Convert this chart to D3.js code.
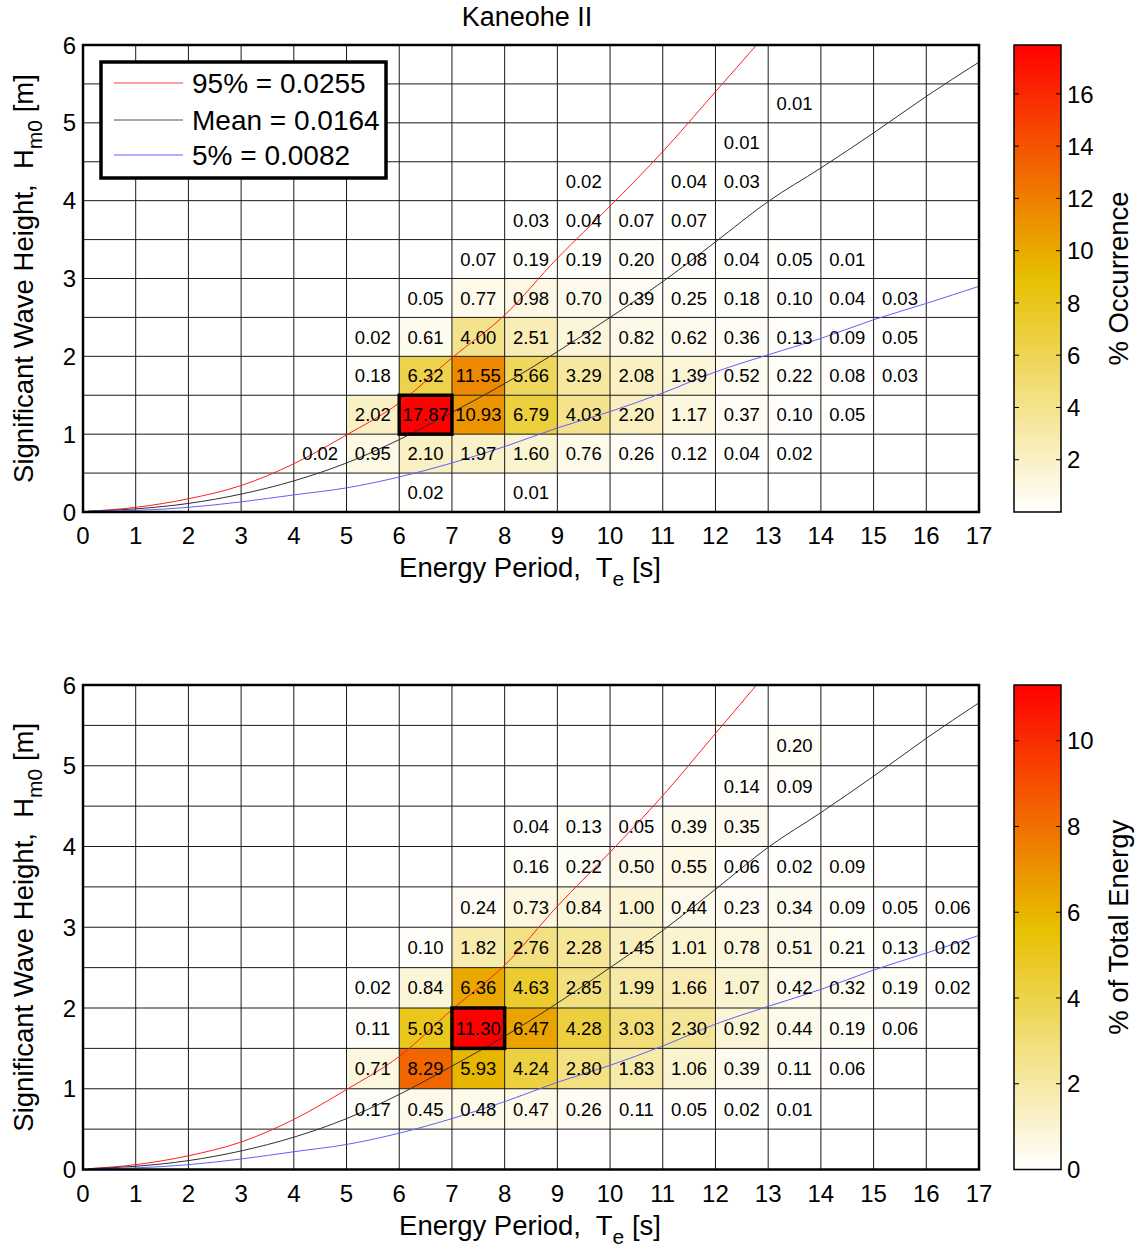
<!DOCTYPE html>
<html>
<head>
	<meta charset="utf-8">
	<title>Kaneohe II</title>
	<script src="https://cdnjs.cloudflare.com/ajax/libs/d3/7.8.5/d3.min.js"></script>
	<style>
	body { margin: 0; background: #fff; }
	svg text { font-family: "Liberation Sans", Arial, Helvetica, sans-serif; fill: #000; }
	</style>
</head>
<body>
	<svg id="svg" width="1139" height="1249"></svg>

	<script>
	// tick labels
	const teTicks = d3.range(0, 18)
	const hmTicks = [0, 1, 2, 3, 4, 5, 6]
	const occTicks = [2, 4, 6, 8, 10, 12, 14, 16]
	const energyTicks = [0, 2, 4, 6, 8, 10]

	// bins: [Te bin start (s), Hm0 bin start (m), value]
	const occurrence = [
		[6, 0, 0.02], [8, 0, 0.01],
		[4, 0.5, 0.02], [5, 0.5, 0.95], [6, 0.5, 2.10], [7, 0.5, 1.97], [8, 0.5, 1.60], [9, 0.5, 0.76],
		[10, 0.5, 0.26], [11, 0.5, 0.12], [12, 0.5, 0.04], [13, 0.5, 0.02],
		[5, 1, 2.02], [6, 1, 17.87], [7, 1, 10.93], [8, 1, 6.79], [9, 1, 4.03], [10, 1, 2.20],
		[11, 1, 1.17], [12, 1, 0.37], [13, 1, 0.10], [14, 1, 0.05],
		[5, 1.5, 0.18], [6, 1.5, 6.32], [7, 1.5, 11.55], [8, 1.5, 5.66], [9, 1.5, 3.29], [10, 1.5, 2.08],
		[11, 1.5, 1.39], [12, 1.5, 0.52], [13, 1.5, 0.22], [14, 1.5, 0.08], [15, 1.5, 0.03],
		[5, 2, 0.02], [6, 2, 0.61], [7, 2, 4.00], [8, 2, 2.51], [9, 2, 1.32], [10, 2, 0.82],
		[11, 2, 0.62], [12, 2, 0.36], [13, 2, 0.13], [14, 2, 0.09], [15, 2, 0.05],
		[6, 2.5, 0.05], [7, 2.5, 0.77], [8, 2.5, 0.98], [9, 2.5, 0.70], [10, 2.5, 0.39],
		[11, 2.5, 0.25], [12, 2.5, 0.18], [13, 2.5, 0.10], [14, 2.5, 0.04], [15, 2.5, 0.03],
		[7, 3, 0.07], [8, 3, 0.19], [9, 3, 0.19], [10, 3, 0.20], [11, 3, 0.08], [12, 3, 0.04],
		[13, 3, 0.05], [14, 3, 0.01],
		[8, 3.5, 0.03], [9, 3.5, 0.04], [10, 3.5, 0.07], [11, 3.5, 0.07],
		[9, 4, 0.02], [11, 4, 0.04], [12, 4, 0.03],
		[12, 4.5, 0.01],
		[13, 5, 0.01]
	]

	const energy = [
		[5, 0.5, 0.17], [6, 0.5, 0.45], [7, 0.5, 0.48], [8, 0.5, 0.47], [9, 0.5, 0.26], [10, 0.5, 0.11],
		[11, 0.5, 0.05], [12, 0.5, 0.02], [13, 0.5, 0.01],
		[5, 1, 0.71], [6, 1, 8.29], [7, 1, 5.93], [8, 1, 4.24], [9, 1, 2.80], [10, 1, 1.83],
		[11, 1, 1.06], [12, 1, 0.39], [13, 1, 0.11], [14, 1, 0.06],
		[5, 1.5, 0.11], [6, 1.5, 5.03], [7, 1.5, 11.30], [8, 1.5, 6.47], [9, 1.5, 4.28], [10, 1.5, 3.03],
		[11, 1.5, 2.30], [12, 1.5, 0.92], [13, 1.5, 0.44], [14, 1.5, 0.19], [15, 1.5, 0.06],
		[5, 2, 0.02], [6, 2, 0.84], [7, 2, 6.36], [8, 2, 4.63], [9, 2, 2.85], [10, 2, 1.99],
		[11, 2, 1.66], [12, 2, 1.07], [13, 2, 0.42], [14, 2, 0.32], [15, 2, 0.19], [16, 2, 0.02],
		[6, 2.5, 0.10], [7, 2.5, 1.82], [8, 2.5, 2.76], [9, 2.5, 2.28], [10, 2.5, 1.45], [11, 2.5, 1.01],
		[12, 2.5, 0.78], [13, 2.5, 0.51], [14, 2.5, 0.21], [15, 2.5, 0.13], [16, 2.5, 0.02],
		[7, 3, 0.24], [8, 3, 0.73], [9, 3, 0.84], [10, 3, 1.00], [11, 3, 0.44], [12, 3, 0.23],
		[13, 3, 0.34], [14, 3, 0.09], [15, 3, 0.05], [16, 3, 0.06],
		[8, 3.5, 0.16], [9, 3.5, 0.22], [10, 3.5, 0.50], [11, 3.5, 0.55], [12, 3.5, 0.06],
		[13, 3.5, 0.02], [14, 3.5, 0.09],
		[8, 4, 0.04], [9, 4, 0.13], [10, 4, 0.05], [11, 4, 0.39], [12, 4, 0.35],
		[12, 4.5, 0.14], [13, 4.5, 0.09],
		[13, 5, 0.20]
	]

	// steepness curves
	const redTe = [0.1, 1, 2, 3, 4, 5, 6, 7, 8, 9, 10, 11, 12, 12.78]
	const red95 = [0.01, 0.06, 0.17, 0.34, 0.62, 0.99, 1.40, 1.98, 2.53, 3.26, 3.93, 4.63, 5.40, 6.0]
	const curveTe = [0.1, 1, 2, 3, 4, 5, 6, 7, 8, 9, 10, 11, 12, 13, 14, 15, 16, 17]
	const meanCurve = [0.01, 0.04, 0.11, 0.23, 0.40, 0.63, 0.93, 1.28, 1.65, 2.06, 2.50, 2.96, 3.47, 3.99, 4.42, 4.87, 5.34, 5.78]
	const low5 = [0.01, 0.02, 0.06, 0.13, 0.22, 0.31, 0.45, 0.63, 0.84, 1.08, 1.29, 1.53, 1.80, 2.02, 2.23, 2.47, 2.68, 2.90]

	const legendLabels = ['95% = 0.0255', 'Mean = 0.0164', '5% = 0.0082']

	const svg = d3.select('#svg')

	const x = d3.scaleLinear().domain([0, 17]).range([83, 979])

	function drawPanel(p) {
		const y = d3.scaleLinear().domain([0, 6]).range([p.bottom, p.top])
		const vmax = d3.max(p.cells, d => d[2])
		const color = d3.scaleLinear().domain([0, vmax / 2, vmax])
			.range(['#ffffff', '#e6c000', '#ff0000'])
		const g = svg.append('g')
		const clipId = 'clip' + p.id

		g.append('clipPath').attr('id', clipId)
			.append('rect')
			.attr('x', x(0)).attr('y', y(6))
			.attr('width', x(17) - x(0)).attr('height', y(0) - y(6))

		g.append('rect')
			.attr('x', x(0)).attr('y', y(6))
			.attr('width', x(17) - x(0)).attr('height', y(0) - y(6))
			.attr('fill', '#fff')

		// cells
		g.selectAll('.cell').data(p.cells).enter()
			.append('rect').attr('class', 'cell')
			.attr('x', d => x(d[0]))
			.attr('y', d => y(d[1] + 0.5))
			.attr('width', d => x(d[0] + 1) - x(d[0]))
			.attr('height', d => y(d[1]) - y(d[1] + 0.5))
			.attr('fill', d => color(d[2]))

		// grid
		g.selectAll('.vgrid').data(d3.range(1, 17)).enter()
			.append('line')
			.attr('x1', d => x(d)).attr('x2', d => x(d))
			.attr('y1', y(0)).attr('y2', y(6))
			.attr('stroke', '#1a1a1a').attr('stroke-width', 1)
		g.selectAll('.hgrid').data(d3.range(0.5, 6, 0.5)).enter()
			.append('line')
			.attr('y1', d => y(d)).attr('y2', d => y(d))
			.attr('x1', x(0)).attr('x2', x(17))
			.attr('stroke', '#1a1a1a').attr('stroke-width', 1)

		// curves
		const line = d3.line().x(d => x(d[0])).y(d => y(d[1])).curve(d3.curveMonotoneX)
		const curves = [
			{ te: redTe, h: red95, c: '#ff2020' },
			{ te: curveTe, h: meanCurve, c: '#303030' },
			{ te: curveTe, h: low5, c: '#6060ff' }
		]
		g.append('g').attr('clip-path', `url(#${clipId})`)
			.selectAll('path').data(curves).enter()
			.append('path')
			.attr('d', d => line(d.te.map((t, i) => [t, d.h[i]])))
			.attr('fill', 'none')
			.attr('stroke', d => d.c)
			.attr('stroke-width', 1)

		// values
		g.selectAll('.val').data(p.cells).enter()
			.append('text')
			.attr('x', d => x(d[0] + 0.5))
			.attr('y', d => y(d[1] + 0.25))
			.attr('dy', '0.36em')
			.attr('text-anchor', 'middle')
			.style('font-size', '18.5px')
			.text(d => d[2].toFixed(2))

		// max cell outline
		const mx = p.cells.find(d => d[2] === vmax)
		g.append('rect')
			.attr('x', x(mx[0])).attr('y', y(mx[1] + 0.5))
			.attr('width', x(mx[0] + 1) - x(mx[0]))
			.attr('height', y(mx[1]) - y(mx[1] + 0.5))
			.attr('fill', 'none').attr('stroke', '#000').attr('stroke-width', 3.5)

		// box
		g.append('rect')
			.attr('x', x(0)).attr('y', y(6))
			.attr('width', x(17) - x(0)).attr('height', y(0) - y(6))
			.attr('fill', 'none').attr('stroke', '#000').attr('stroke-width', 2.5)

		// tick labels
		g.selectAll('.xt').data(teTicks).enter()
			.append('text')
			.attr('x', d => x(d)).attr('y', p.bottom + 32)
			.attr('text-anchor', 'middle')
			.style('font-size', '24px')
			.text(d => d)
		g.selectAll('.yt').data(hmTicks).enter()
			.append('text')
			.attr('x', 76).attr('y', d => y(d))
			.attr('dy', '0.36em')
			.attr('text-anchor', 'end')
			.style('font-size', '24px')
			.text(d => d)

		// axis titles
		const xl = g.append('text')
			.attr('x', 530).attr('y', p.bottom + 65)
			.attr('text-anchor', 'middle')
			.style('font-size', '27.5px').style('white-space', 'pre')
		xl.append('tspan').text('Energy Period,  T')
		xl.append('tspan').attr('dy', 9).style('font-size', '21px').text('e')
		xl.append('tspan').attr('dy', -9).text(' [s]')

		const yl = g.append('text')
			.attr('transform', `translate(33,${(p.top + p.bottom) / 2}) rotate(-90)`)
			.attr('text-anchor', 'middle')
			.style('font-size', '27.5px').style('white-space', 'pre')
		yl.append('tspan').text('Significant Wave Height,  H')
		yl.append('tspan').attr('dy', 9).style('font-size', '21px').text('m0')
		yl.append('tspan').attr('dy', -9).text(' [m]')

		// colorbar
		const cx0 = 1014, cx1 = 1061
		const cy = d3.scaleLinear().domain([0, vmax]).range([p.bottom, p.top])
		const grad = svg.append('defs').append('linearGradient')
			.attr('id', 'grad' + p.id)
			.attr('x1', 0).attr('y1', 1).attr('x2', 0).attr('y2', 0)
		grad.selectAll('stop').data(d3.range(0, 1.0001, 0.05)).enter()
			.append('stop')
			.attr('offset', d => d)
			.attr('stop-color', d => color(d * vmax))
		g.append('rect')
			.attr('x', cx0).attr('y', p.top)
			.attr('width', cx1 - cx0).attr('height', p.bottom - p.top)
			.attr('fill', `url(#grad${p.id})`)
			.attr('stroke', '#000').attr('stroke-width', 1.5)
		const ct = g.selectAll('.ct').data(p.ticks).enter().append('g')
		ct.append('line')
			.attr('x1', cx0).attr('x2', cx0 + 5)
			.attr('y1', d => cy(d)).attr('y2', d => cy(d))
			.attr('stroke', '#000')
		ct.append('line')
			.attr('x1', cx1 - 5).attr('x2', cx1)
			.attr('y1', d => cy(d)).attr('y2', d => cy(d))
			.attr('stroke', '#000')
		ct.append('text')
			.attr('x', 1067).attr('y', d => cy(d))
			.attr('dy', '0.36em')
			.style('font-size', '24px')
			.text(d => d)
		g.append('text')
			.attr('transform', `translate(1128,${(p.top + p.bottom) / 2}) rotate(-90)`)
			.attr('text-anchor', 'middle')
			.style('font-size', '27.5px')
			.text(p.cbLabel)

		return y
	}

	drawPanel({ id: 'a', cells: occurrence, top: 45, bottom: 512, ticks: occTicks, cbLabel: '% Occurrence' })
	drawPanel({ id: 'b', cells: energy, top: 685, bottom: 1169.5, ticks: energyTicks, cbLabel: '% of Total Energy' })

	// title
	svg.append('text')
		.attr('x', 527).attr('y', 26)
		.attr('text-anchor', 'middle')
		.style('font-size', '27px')
		.text('Kaneohe II')

	// legend (top panel only)
	const legend = svg.append('g')
	legend.append('rect')
		.attr('x', 101).attr('y', 62)
		.attr('width', 285).attr('height', 116)
		.attr('fill', '#fff').attr('stroke', '#000').attr('stroke-width', 3.5)
	const legColors = ['#ff4040', '#505050', '#6060ff']
	const legY = [83, 120, 155]
	legend.selectAll('line').data(legendLabels).enter()
		.append('line')
		.attr('x1', 114).attr('x2', 183)
		.attr('y1', (d, i) => legY[i]).attr('y2', (d, i) => legY[i])
		.attr('stroke', (d, i) => legColors[i]).attr('stroke-width', 1)
	legend.selectAll('text').data(legendLabels).enter()
		.append('text')
		.attr('x', 192).attr('y', (d, i) => legY[i])
		.attr('dy', '0.36em')
		.style('font-size', '28px')
		.text(d => d)
	</script>
</body>
</html>
